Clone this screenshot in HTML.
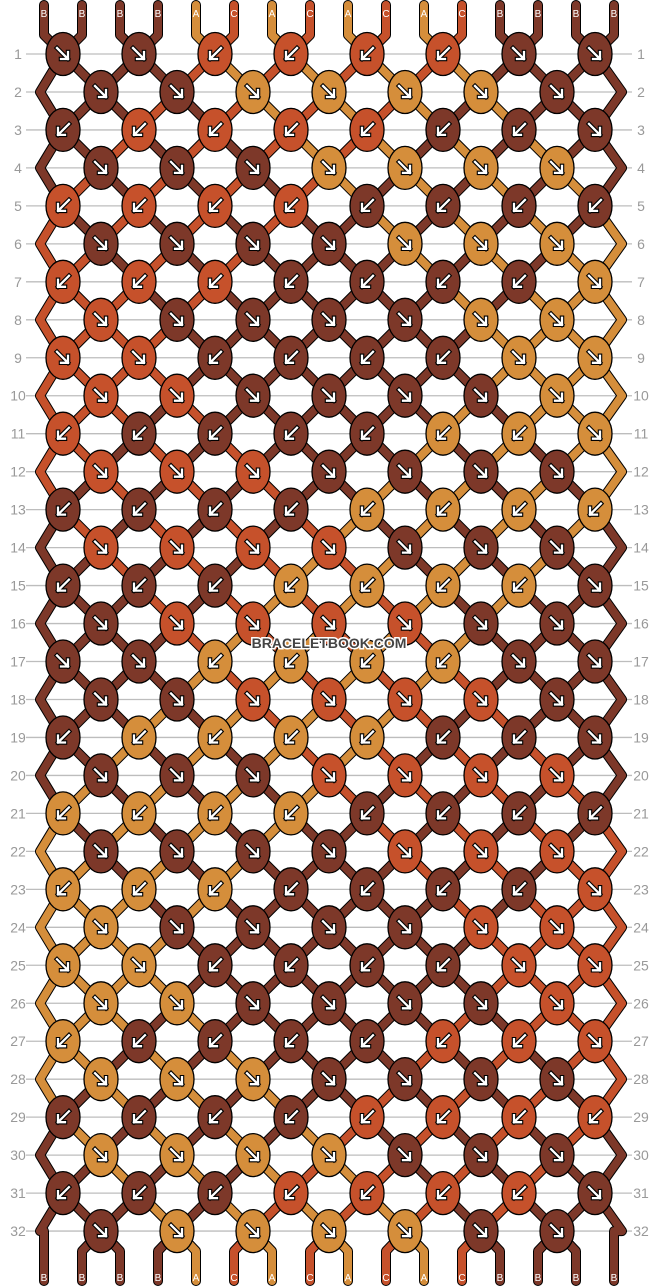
<!DOCTYPE html>
<html><head><meta charset="utf-8">
<style>
html,body{margin:0;padding:0;background:#fff;}
svg{display:block;}
</style></head>
<body>
<svg id="chart" width="658" height="1288" viewBox="0 0 658 1288" xmlns="http://www.w3.org/2000/svg"></svg>
<script>
// Starting string colors (left to right)
const startStrings = ['B','B','B','B','A','C','A','C','A','C','A','C','B','B','B','B'];
// Knot directions per row: R = forward (↘), L = backward (↙)
const rowDirs = [
 'RRLLLLRR','RRRRRRR','LLLLLLLR','RRRRRRR','LLLLLLLL','RRRRRRR','LLLLLLLR','RRRRRRR',
 'RRLLLLRR','RRRRRRR','LLLLLLLR','RRRRRRR','LLLLLLLL','RRRRRRR','LLLLLLLR','RRRRRRR',
 'RRLLLLRR','RRRRRRR','LLLLLLLR','RRRRRRR','LLLLLLLL','RRRRRRR','LLLLLLLR','RRRRRRR',
 'RRLLLLRR','RRRRRRR','LLLLLLLR','RRRRRRR','LLLLLLLL','RRRRRRR','LLLLLLLR','RRRRRRR'
];
const colorMap = {B:'#7d3829', A:'#d58e3b', C:'#c6512b'};

const NS='http://www.w3.org/2000/svg';
const svg=document.getElementById('chart');
function mk(tag, attrs, parent){const e=document.createElementNS(NS,tag);for(const k in attrs)e.setAttribute(k,attrs[k]);(parent||svg).appendChild(e);return e;}
const rowY = r => 54 + (r-1)*37.97;        // r = 1..32
const strX = i => 44 + 38*i;               // string rest position
const knotX = (r,k) => (r%2===1) ? 63 + 76*k : 101 + 76*k;
const nRows = rowDirs.length;

// grid lines & labels
const gGrid = mk('g',{});


for(let r=1;r<=nRows;r++){
  const y=rowY(r);
  const ln=mk('line',{x1:26,x2:632,y1:y,y2:y,stroke:'#bdbdbd','stroke-width':1.3},gGrid);
  
  
  const tl=mk('text',{x:18,y:y+5,'font-family':'Liberation Sans, sans-serif','font-size':14,fill:'#999','text-anchor':'middle'},gGrid);
  tl.textContent=r;
  
  
  const tr=mk('text',{x:641,y:y+5,'font-family':'Liberation Sans, sans-serif','font-size':14,fill:'#999','text-anchor':'middle'},gGrid);
  tr.textContent=r;
  
  
}

// simulate strings: path points per string position
let order = startStrings.map((c,i)=>({c, pts:[[strX(i),5],[strX(i),35]]}));
const knots=[];
for(let r=1;r<=nRows;r++){
  const dirs=rowDirs[r-1];
  const odd = r%2===1;
  const y=rowY(r);
  for(let k=0;k<dirs.length;k++){
    const a = odd ? 2*k : 2*k+1, b=a+1;
    const x=knotX(r,k);
    const sa=order[a], sb=order[b];
    sa.pts.push([x,y]); sb.pts.push([x,y]);
    const col = dirs[k]==='R' ? sa.c : sb.c;
    knots.push({x,y,col,dir:dirs[k]});
    order[a]=sb; order[b]=sa;
  }
  if(!odd){ order[0].pts.push([40,y]); order[15].pts.push([622,y]); }
}
// finish strings at bottom
const yl=rowY(nRows);
order.forEach((s,i)=>{
  if(i===0||i===15){ s.pts.push([strX(i),yl]); }
  else s.pts.push([strX(i),yl+20]);
  s.pts.push([strX(i),1281]);
});

// draw threads: all outlines first then fills, segment by segment order for overlap
const gThreads=mk('g',{});


const allStrings = order;
allStrings.forEach(s=>{
  const d='M'+s.pts.map(p=>p[0].toFixed(1)+' '+p[1].toFixed(1)).join(' L');
  const o=mk('path',{d,fill:'none',stroke:'#000','stroke-width':10,'stroke-linejoin':'round','stroke-linecap':'round'},gThreads);
  
  
});
allStrings.forEach(s=>{
  const d='M'+s.pts.map(p=>p[0].toFixed(1)+' '+p[1].toFixed(1)).join(' L');
  const f=mk('path',{d,fill:'none',stroke:colorMap[s.c],'stroke-width':8,'stroke-linejoin':'round','stroke-linecap':'round'},gThreads);
  
  
});

// end labels
const gLab=mk('g',{});


startStrings.forEach((c,i)=>{
  const t=mk('text',{x:strX(i),y:17,'font-family':'Liberation Sans, sans-serif','font-size':10,fill:'#fff','text-anchor':'middle'},gLab);
  t.textContent=c;
  
  
});
order.forEach((s,i)=>{
  const t=mk('text',{x:strX(i),y:1281,'font-family':'Liberation Sans, sans-serif','font-size':10,fill:'#fff','text-anchor':'middle'},gLab);
  t.textContent=s.c;
  
  
});

// knots
const gK=mk('g',{});


knots.forEach(k=>{
  const g=mk('g',{transform:`translate(${k.x.toFixed(1)},${k.y.toFixed(1)})`},gK);
  
  
  mk('ellipse',{cx:0,cy:0,rx:17,ry:21.5,fill:colorMap[k.col],stroke:'#000','stroke-width':1.3},g);
  const d = k.dir==='R' ? 'M-6 -6 L5 5 M5 -2 L5 5 L-2 5' : 'M6 -6 L-5 5 M-5 -2 L-5 5 L2 5';
  mk('path',{d,fill:'none',stroke:'#000','stroke-width':4.5,'stroke-linecap':'square'},g);
  mk('path',{d,fill:'none',stroke:'#fff','stroke-width':2.3,'stroke-linecap':'square'},g);
});

// watermark
const wm=mk('text',{x:329,y:648,'font-family':'Liberation Sans, sans-serif','font-size':14,'font-weight':'bold',fill:'#444',stroke:'#fff','stroke-width':3,'paint-order':'stroke','text-anchor':'middle'});
wm.textContent='BRACELETBOOK.COM';


</script>
</body></html>
